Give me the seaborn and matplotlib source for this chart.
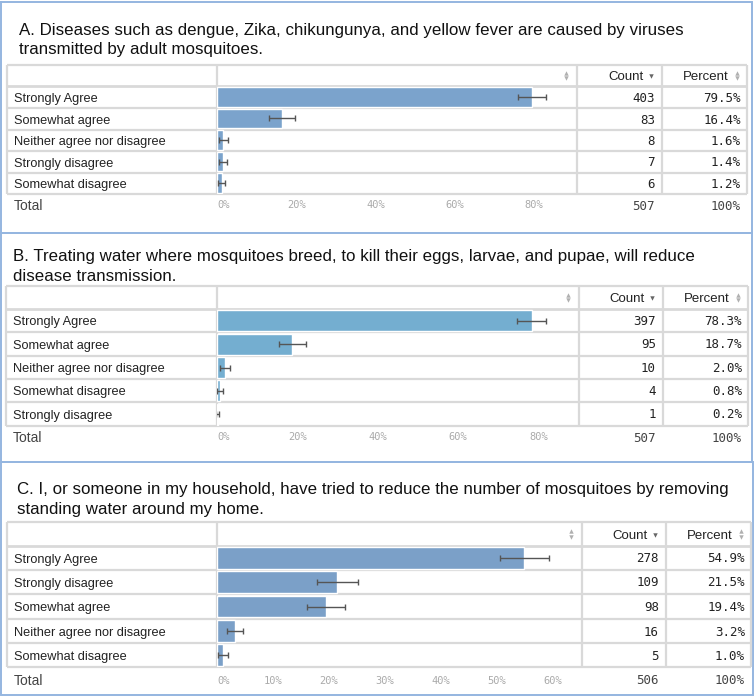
import matplotlib
matplotlib.use('Agg')
import matplotlib.pyplot as plt
import seaborn as sns

# ---------------------------------------------------------------
# data
# ---------------------------------------------------------------
titles_a = ["A. Diseases such as dengue, Zika, chikungunya, and yellow fever are caused by viruses",
            "transmitted by adult mosquitoes."]
cats_a = ["Strongly Agree", "Somewhat agree", "Neither agree nor disagree",
          "Strongly disagree", "Somewhat disagree"]
counts_a = [403, 83, 8, 7, 6]
pct_a = [79.5, 16.4, 1.6, 1.4, 1.2]
err_a = [3.5, 3.2, 1.2, 1.0, 0.9]
total_a = 507
ticks_a = [0, 20, 40, 60, 80]

titles_b = ["B. Treating water where mosquitoes breed, to kill their eggs, larvae, and pupae, will reduce",
            "disease transmission."]
cats_b = ["Strongly Agree", "Somewhat agree", "Neither agree nor disagree",
          "Somewhat disagree", "Strongly disagree"]
counts_b = [397, 95, 10, 4, 1]
pct_b = [78.3, 18.7, 2.0, 0.8, 0.2]
err_b = [3.6, 3.4, 1.2, 0.8, 0.4]
total_b = 507
ticks_b = [0, 20, 40, 60, 80]

titles_c = ["C. I, or someone in my household, have tried to reduce the number of mosquitoes by removing",
            "standing water around my home."]
cats_c = ["Strongly Agree", "Strongly disagree", "Somewhat agree",
          "Neither agree nor disagree", "Somewhat disagree"]
counts_c = [278, 109, 98, 16, 5]
pct_c = [54.9, 21.5, 19.4, 3.2, 1.0]
err_c = [4.3, 3.6, 3.4, 1.5, 0.9]
total_c = 506
ticks_c = [0, 10, 20, 30, 40, 50, 60]

# ---------------------------------------------------------------
W, H = 756, 699
sns.set_style('white')
plt.rcParams['font.family'] = ['Liberation Sans', 'DejaVu Sans']

fig = plt.figure(figsize=(W / 100, H / 100), dpi=100)
fig.patch.set_facecolor('white')

bg = fig.add_axes([0, 0, 1, 1])
bg.set_xlim(0, W)
bg.set_ylim(H, 0)
bg.axis('off')

GRID = '#d9d9d9'
BORDER = '#95b6e0'
MONO = 'DejaVu Sans Mono'


def px_box(x0, y0, x1, y1):
    return [x0 / W, 1 - y1 / H, (x1 - x0) / W, (y1 - y0) / H]


def put(x, y, s, size, **kw):
    # y is the middle of the capital letters, in pixels
    off = size * 100 / 72 * 0.36
    bg.text(x, y + off, s, fontsize=size, va='baseline', **kw)


def sort_icon(x, y, color='#b0b0b0'):
    bg.plot([x], [y - 2.6], marker='^', ms=3.2, color=color, mew=0)
    bg.plot([x], [y + 2.6], marker='v', ms=3.2, color=color, mew=0)


def draw_panel(box, title_x, title_y, cols, rows_y, total_y,
               titles, cats, counts, pct, err, total, ticks, xmax, color):
    # outer light blue frame
    bx0, by0, bx1, by1 = box
    bg.plot([bx0, bx1, bx1, bx0, bx0], [by0, by0, by1, by1, by0],
            color=BORDER, lw=1.4, solid_joinstyle='miter')

    # title
    for i, line in enumerate(titles):
        put(title_x, title_y[i], line, 12.2, color='#111111', ha='left')

    c0, c1, c2, c3, c4 = cols
    top, hb = rows_y[0], rows_y[1]
    bottom = rows_y[-1]

    # table lines
    for y in rows_y:
        bg.plot([c0, c4], [y, y], color=GRID, lw=1.6 if y != hb else 2.0,
                solid_capstyle='butt')
    for x in cols:
        bg.plot([x, x], [top, bottom], color=GRID, lw=1.6, solid_capstyle='butt')

    # header
    hy = (top + hb) / 2
    sort_icon(c2 - 11, hy)
    put(c3 - 18, hy, 'Count', 9.5, color='#222222', ha='right')
    bg.plot([c3 - 11], [hy + 0.5], marker='v', ms=3.2, color='#666666', mew=0)
    put(c4 - 18, hy, 'Percent', 9.5, color='#222222', ha='right')
    sort_icon(c4 - 10, hy)

    # body rows
    for i, cat in enumerate(cats):
        ry = (rows_y[i + 1] + rows_y[i + 2]) / 2
        put(c0 + 7, ry, cat, 9.2, color='#222222', ha='left')
        put(c3 - 7, ry, str(counts[i]), 9, color='#222222', ha='right', family=MONO)
        put(c4 - 6, ry, f'{pct[i]:.1f}%', 9, color='#222222', ha='right', family=MONO)

    # total row
    put(c0 + 7, total_y, 'Total', 10, color='#444444', ha='left')
    put(c3 - 7, total_y, str(total), 9, color='#444444', ha='right', family=MONO)
    put(c4 - 6, total_y, '100%', 9, color='#444444', ha='right', family=MONO)

    # bar column
    ax = fig.add_axes(px_box(c1, hb, c2, bottom))
    sns.barplot(x=pct, y=cats, orient='h', color=color, saturation=1,
                width=0.9, errorbar=None, ax=ax)
    ax.errorbar(pct, list(range(len(cats))), xerr=err, fmt='none', ecolor='#555555',
                elinewidth=1, capsize=2.5, capthick=1)
    ax.set_xlim(0, xmax)
    ax.set_ylim(len(cats) - 0.5, -0.5)
    ax.patch.set_alpha(0)
    for s in ax.spines.values():
        s.set_visible(False)
    ax.set_ylabel('')
    ax.set_xlabel('')
    ax.set_yticks([])
    ax.set_xticks(ticks)
    labels = ax.set_xticklabels([f'{t}%' for t in ticks], family=MONO, fontsize=7.5,
                                color='#aaaaaa')
    labels[0].set_ha('left')
    ax.tick_params(axis='x', length=0, pad=(total_y - bottom - 4.5) * 0.72)
    return ax


draw_panel((1, 2, 752, 233), 19, [29, 48],
           [7, 217, 577, 662, 747], [65, 86, 108, 130, 151, 173, 194], 205,
           titles_a, cats_a, counts_a, pct_a, err_a, total_a, ticks_a,
           (577 - 217) / 3.96, '#7ba3cc')

draw_panel((1, 233, 752, 462), 13, [255, 275],
           [6, 217, 579, 663, 748], [286, 309, 332, 356, 379, 402, 426], 437,
           titles_b, cats_b, counts_b, pct_b, err_b, total_b, ticks_b,
           (579 - 217) / 4.02, '#74aed0')

draw_panel((1, 462, 753, 695), 17, [488, 508],
           [7, 217, 582, 666, 751], [522, 546, 570, 594, 619, 643, 667], 680,
           titles_c, cats_c, counts_c, pct_c, err_c, total_c, ticks_c,
           (582 - 217) / 5.6, '#7ba0c8')

plt.savefig('out.png', dpi=100)
plt.close()
